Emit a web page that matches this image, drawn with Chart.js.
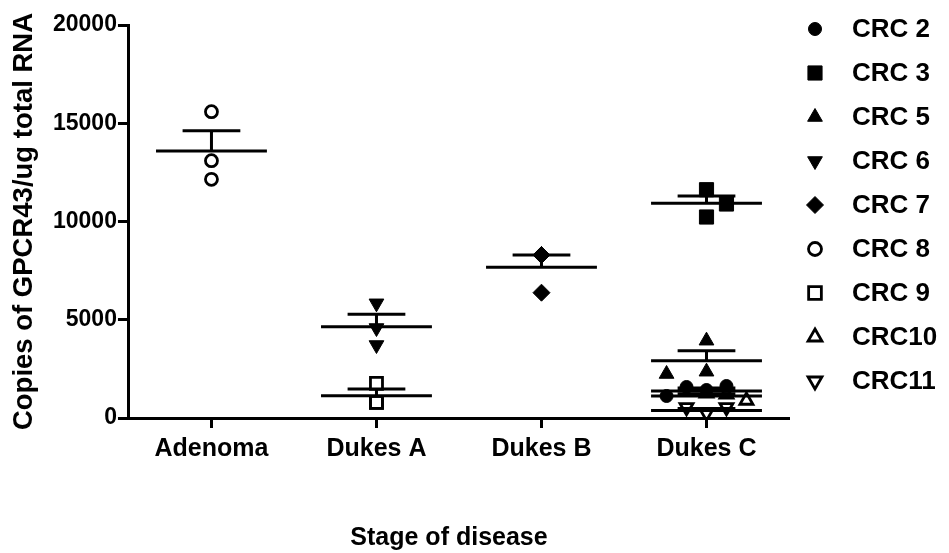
<!DOCTYPE html>
<html>
<head>
<meta charset="utf-8">
<script src="https://cdn.jsdelivr.net/npm/chart.js@4.4.1/dist/chart.umd.min.js"></script>
<style>
  html, body { margin: 0; padding: 0; background: #fff; }
  #wrap { width: 949px; height: 553px; }
</style>
</head>
<body>
<div id="wrap"><canvas id="chart" width="949" height="553"></canvas></div>
<script>
// Stages on the x axis and the y tick values
const categories = ['Adenoma', 'Dukes A', 'Dukes B', 'Dukes C'];
const yTicks = [0, 5000, 10000, 15000, 20000];
const xTitle = 'Stage of disease';
const yTitle = 'Copies of GPCR43/ug total RNA';

// One series per tumour sample; each belongs to one stage column
const seriesNames = ['CRC 2', 'CRC 3', 'CRC 5', 'CRC 6', 'CRC 7', 'CRC 8', 'CRC 9', 'CRC10', 'CRC11'];
const seriesStage = [3, 3, 3, 1, 2, 0, 1, 3, 3];

// Replicate measurements (copies / ug total RNA)
const crc2Values  = [1120, 1578, 1425, 1628];
const crc3Values  = [11618, 10891, 10229];
const crc5Values  = [3934, 2239, 2356];
const crc6Values  = [5837, 4580, 3715];
const crc7Values  = [8295, 8295, 6377];
const crc8Values  = [15588, 13094, 12148];
const crc9Values  = [1766, 799, 799];
const crc10Values = [1250, 1200, 890];
const crc11Values = [545, 254, 545];
const seriesValues = [crc2Values, crc3Values, crc5Values, crc6Values, crc7Values,
                      crc8Values, crc9Values, crc10Values, crc11Values];

// Mean and SEM of each sample
const seriesMean = [1374, 10926, 2916, 4646, 7669, 13588, 1135, 1120, 382];
const seriesSem  = [150, 372, 509, 631, 626, 1033, 341, 110, 100];

// Horizontal spread of replicates inside a column, in steps
const spreadSteps = [[-2, -1, 0, 1], [0, 1, 0], [0, -2, 0], [0, 0, 0], [0, 0, 0],
                     [0, 0, 0], [0, 0, 0], [0, 1, 2], [-1, 0, 1]];
const spreadUnit = 0.121;   // one step, in column widths

// Marker look per series
const markerStyles = [
  { pointStyle: 'circle',   radius: 6.5, rotation: 0,   filled: true },
  { pointStyle: 'rect',     radius: 10,  rotation: 0,   filled: true },
  { pointStyle: 'triangle', radius: 8.5, rotation: 0,   filled: true },
  { pointStyle: 'triangle', radius: 8.5, rotation: 180, filled: true },
  { pointStyle: 'rectRot',  radius: 8.5, rotation: 0,   filled: true },
  { pointStyle: 'circle',   radius: 6,   rotation: 0,   filled: false },
  { pointStyle: 'rect',     radius: 8.5, rotation: 0,   filled: false },
  { pointStyle: 'triangle', radius: 7.5, rotation: 0,   filled: false },
  { pointStyle: 'triangle', radius: 7.5, rotation: 180, filled: false }
];

const FONT = "'Liberation Sans', Arial, Helvetica, sans-serif";

const datasets = seriesNames.map((name, i) => {
  const st = markerStyles[i];
  return {
    label: name,
    data: seriesValues[i].map((v, k) => ({ x: seriesStage[i] + spreadSteps[i][k] * spreadUnit, y: v })),
    pointStyle: st.pointStyle,
    pointRadius: st.radius,
    pointRotation: st.rotation,
    pointBackgroundColor: st.filled ? '#000' : 'rgba(255,255,255,0)',
    pointBorderColor: '#000',
    pointBorderWidth: st.filled ? 1 : 2.8,
    showLine: false
  };
});

// Mean line, SEM cap and the stem joining them
const meanSemPlugin = {
  id: 'meanSem',
  afterDatasetsDraw(chart) {
    const { ctx, scales: { x, y } } = chart;
    ctx.save();
    ctx.strokeStyle = '#000';
    ctx.lineWidth = 3;
    ctx.lineCap = 'butt';
    seriesMean.forEach((m, i) => {
      const s = seriesStage[i];
      const yM = y.getPixelForValue(m);
      const yS = y.getPixelForValue(m + seriesSem[i]);
      ctx.beginPath();
      ctx.moveTo(x.getPixelForValue(s - 0.336), yM);
      ctx.lineTo(x.getPixelForValue(s + 0.336), yM);
      ctx.moveTo(x.getPixelForValue(s - 0.175), yS);
      ctx.lineTo(x.getPixelForValue(s + 0.175), yS);
      ctx.moveTo(x.getPixelForValue(s), yM);
      ctx.lineTo(x.getPixelForValue(s), yS);
      ctx.stroke();
    });
    ctx.restore();
  }
};

// Key on the right (marker + sample name) and the x-axis title below the labels
const keyPlugin = {
  id: 'sampleKey',
  afterDraw(chart) {
    const ctx = chart.ctx;
    ctx.save();
    ctx.font = 'bold 26px ' + FONT;
    ctx.textBaseline = 'middle';
    ctx.textAlign = 'left';
    chart.data.datasets.forEach((ds, i) => {
      const yc = 29 + i * 44;
      const st = markerStyles[i];
      ctx.fillStyle = ds.pointBackgroundColor;
      ctx.strokeStyle = '#000';
      ctx.lineWidth = ds.pointBorderWidth;
      Chart.helpers.drawPoint(ctx, {
        pointStyle: st.pointStyle,
        radius: st.filled ? st.radius : st.radius + 0.5,
        rotation: st.rotation,
        borderWidth: ds.pointBorderWidth
      }, 815, yc);
      ctx.fillStyle = '#000';
      ctx.fillText(ds.label, 852, yc + 1);
    });
    ctx.font = 'bold 25px ' + FONT;
    ctx.textAlign = 'center';
    ctx.fillText(xTitle, 449, 538);
    ctx.restore();
  }
};

new Chart(document.getElementById('chart'), {
  type: 'scatter',
  data: { datasets },
  options: {
    responsive: false,
    animation: false,
    events: [],
    layout: { padding: { top: 25, right: 160, left: 0, bottom: 83 } },
    plugins: { legend: { display: false }, tooltip: { enabled: false } },
    scales: {
      x: {
        type: 'linear',
        min: -0.5,
        max: 3.5,
        afterBuildTicks: (s) => { s.ticks = categories.map((c, i) => ({ value: i })); },
        ticks: {
          autoSkip: false,
          maxRotation: 0,
          padding: 6,
          color: '#000',
          font: { family: FONT, size: 25, weight: 'bold' },
          callback: (v) => categories[v]
        },
        grid: { drawOnChartArea: false, drawTicks: true, tickLength: 10, tickWidth: 3, color: '#000' },
        border: { display: true, width: 3, color: '#000' }
      },
      y: {
        min: 0,
        max: 20000,
        afterBuildTicks: (s) => { s.ticks = yTicks.map(v => ({ value: v })); },
        ticks: {
          padding: 1,
          color: '#000',
          font: { family: FONT, size: 23, weight: 'bold' },
          callback: (v) => String(v)
        },
        grid: { drawOnChartArea: false, drawTicks: true, tickLength: 11, tickWidth: 3, color: '#000' },
        border: { display: true, width: 3, color: '#000' },
        title: {
          display: true,
          text: yTitle,
          color: '#000',
          font: { family: FONT, size: 27.5, weight: 'bold' },
          padding: { top: 8, bottom: 11 }
        }
      }
    }
  },
  plugins: [meanSemPlugin, keyPlugin]
});
</script>
</body>
</html>
